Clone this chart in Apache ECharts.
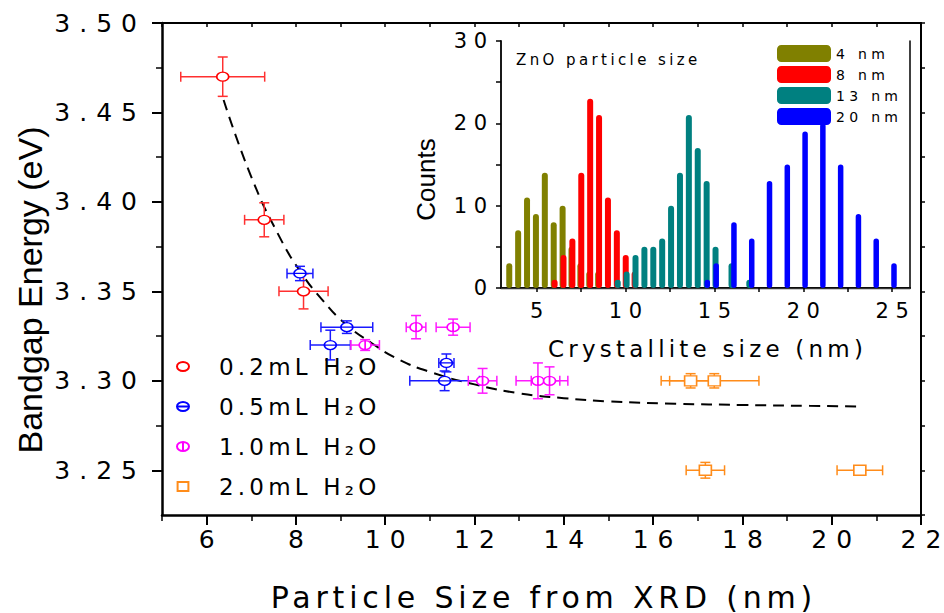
<!DOCTYPE html>
<html>
<head>
<meta charset="utf-8">
<script src="https://cdn.jsdelivr.net/npm/echarts@6/dist/echarts.min.js"></script>
<style>
html, body { margin: 0; padding: 0; background: #fff; }
#chart { width: 944px; height: 613px; }
</style>
</head>
<body>
<div id="chart"></div>
<script>
// main plot: [size, bandgap, x error, y error]
var pts02 = [[6.36, 3.47, 0.94, 0.011], [7.29, 3.39, 0.44, 0.0095], [8.17, 3.35, 0.55, 0.0098]];
var pts05 = [[8.09, 3.36, 0.29, 0.004], [9.14, 3.33, 0.58, 0.0035], [8.77, 3.32, 0.45, 0.0083],
             [11.37, 3.31, 0.17, 0.005], [11.33, 3.30, 0.78, 0.0055]];
var pts10 = [[10.69, 3.33, 0.22, 0.0065], [11.52, 3.33, 0.38, 0.0045], [9.55, 3.32, 0.32, 0.003],
             [12.18, 3.30, 0.32, 0.0069], [13.42, 3.30, 0.49, 0.01], [13.68, 3.30, 0.41, 0.0078]];
var pts20 = [[16.84, 3.30, 0.66, 0.004], [17.37, 3.30, 1.0, 0.004], [17.17, 3.25, 0.43, 0.0044], [20.63, 3.25, 0.51, 0]];
// dashed fit curve
var fitCurve = [[6.38, 3.457], [7.0, 3.414], [7.6, 3.382], [8.1, 3.361], [8.6, 3.345], [9.1, 3.332],
                [9.7, 3.321], [10.3, 3.312], [11.0, 3.305], [12.0, 3.298], [13.0, 3.293], [14.0, 3.2903],
                [15.0, 3.2885], [16.5, 3.2872], [18.0, 3.2865], [19.5, 3.286], [20.65, 3.2856]];

// inset histogram
var bins4 = [3.45, 3.95, 4.45, 4.95, 5.45, 5.95, 6.45, 6.95, 7.45, 7.95, 8.45];
var counts4 = [3, 7, 11, 9, 14, 8, 10, 5, 3, 2, 2];
var bins8 = [6, 6.5, 7, 7.5, 8, 8.5, 9, 9.5, 10, 10.5];
var counts8 = [1, 4, 6, 14, 23, 21, 11, 7, 4, 2];
var bins13 = [9.55, 10.05, 10.55, 11.05, 11.55, 12.05, 12.55, 13.05, 13.55, 14.05, 14.55, 15.05, 15.95, 16.95];
var counts13 = [1, 2, 4, 5, 5, 6, 10, 14, 21, 17, 13, 5, 3, 1];
var bins20 = [14.6, 15.1, 16.1, 17.1, 18.1, 19.1, 20.1, 21.1, 22.1, 23.1, 24.1, 25.1];
var counts20 = [1, 3, 8, 6, 13, 15, 19, 20, 15, 9, 6, 3];

var xMajor = [6, 8, 10, 12, 14, 16, 18, 20, 22];
var xMinor = [5, 7, 9, 11, 13, 15, 17, 19, 21];
var yMajor = [3.25, 3.30, 3.35, 3.40, 3.45, 3.50];
var yMinor = [3.275, 3.325, 3.375, 3.425, 3.475];
var insetXLabels = [5, 10, 15, 20, 25];
var insetXTicks = [5, 7.5, 10, 12.5, 15, 17.5, 20, 22.5, 25];
var insetYLabels = [0, 10, 20, 30];

var FONT = 'DejaVu Sans';
var ELL = 'path://M0,4.5A6,4.5 0 1 1 12,4.5A6,4.5 0 1 1 0,4.5Z';
var ELL_H = ELL + 'M0,4.5L12,4.5';
var ELL_V = ELL + 'M6,0L6,9';
var SQR = 'path://M0,0L12,0L12,10L0,10Z';

function pairs(xs, ys) {
  return xs.map(function (x, i) { return [x, ys[i]]; });
}

function errorBars(name, pts, color) {
  return {
    name: name, type: 'custom', xAxisIndex: 0, yAxisIndex: 0, silent: true, z: 3,
    data: pts,
    encode: { x: 0, y: 1 },
    renderItem: function (params, api) {
      var x = api.value(0), y = api.value(1), ex = api.value(2), ey = api.value(3);
      var c = 5;
      var st = { stroke: color, lineWidth: 1.5, fill: null };
      var l = api.coord([x - ex, y]), r = api.coord([x + ex, y]);
      var kids = [
        { type: 'line', shape: { x1: l[0], y1: l[1], x2: r[0], y2: r[1] }, style: st },
        { type: 'line', shape: { x1: l[0], y1: l[1] - c, x2: l[0], y2: l[1] + c }, style: st },
        { type: 'line', shape: { x1: r[0], y1: r[1] - c, x2: r[0], y2: r[1] + c }, style: st }
      ];
      if (ey > 0) {
        var t = api.coord([x, y + ey]), b = api.coord([x, y - ey]);
        kids.push({ type: 'line', shape: { x1: t[0], y1: t[1], x2: b[0], y2: b[1] }, style: st });
        kids.push({ type: 'line', shape: { x1: t[0] - c, y1: t[1], x2: t[0] + c, y2: t[1] }, style: st });
        kids.push({ type: 'line', shape: { x1: b[0] - c, y1: b[1], x2: b[0] + c, y2: b[1] }, style: st });
      }
      return { type: 'group', children: kids };
    }
  };
}

function marks(name, pts, color, symbol, size) {
  return {
    name: name, type: 'scatter', xAxisIndex: 0, yAxisIndex: 0, z: 4,
    data: pts.map(function (p) { return [p[0], p[1]]; }),
    symbol: symbol, symbolSize: size,
    itemStyle: { color: '#fff', borderColor: color, borderWidth: 1.5, opacity: 1 }
  };
}

function bars(name, xs, ys, color, w) {
  return {
    name: name, type: 'bar', xAxisIndex: 3, yAxisIndex: 3, z: 6,
    data: pairs(xs, ys), barWidth: w, barGap: '-100%',
    itemStyle: { color: color, borderRadius: 3 }
  };
}

var black = '#000';
var chart = echarts.init(document.getElementById('chart'), null, { renderer: 'svg' });

chart.setOption({
  animation: false,
  backgroundColor: '#fff',
  title: {
    text: 'ZnO particle size', left: 516, top: 52, padding: 0,
    textStyle: { fontFamily: FONT, fontSize: 15, fontWeight: 'normal', color: black }
  },
  grid: [
    { left: 162, top: 23, width: 759, height: 492, outerBoundsMode: 'none' },
    { left: 501, top: 41, width: 409, height: 247, outerBoundsMode: 'none',
      show: true, backgroundColor: '#fff', borderWidth: 0 }
  ],
  legend: [
    {
      orient: 'vertical', left: 171, top: 350, itemWidth: 62, itemHeight: 9, itemGap: 17,
      textStyle: { fontFamily: FONT, fontSize: 23, lineHeight: 23, color: black },
      data: [
        { name: '0.2mL H₂O', icon: ELL },
        { name: '0.5mL H₂O', icon: ELL_H },
        { name: '1.0mL H₂O', icon: ELL_V },
        { name: '2.0mL H₂O', icon: SQR }
      ]
    },
    {
      orient: 'vertical', left: 777, top: 45, itemWidth: 54, itemHeight: 17, itemGap: 4,
      padding: 0, backgroundColor: '#fff', z: 10,
      textStyle: { fontFamily: FONT, fontSize: 14, color: black },
      data: [
        { name: '4 nm', icon: 'roundRect' },
        { name: '8 nm', icon: 'roundRect' },
        { name: '13 nm', icon: 'roundRect' },
        { name: '20 nm', icon: 'roundRect' }
      ]
    }
  ],
  xAxis: [
    {
      gridIndex: 0, type: 'value', position: 'bottom', min: 5, max: 22, interval: 1,
      splitLine: { show: false },
      axisLine: { lineStyle: { color: black, width: 2.5 } },
      axisTick: { customValues: xMajor, length: 10, lineStyle: { color: black, width: 2 } },
      axisLabel: { customValues: xMajor, margin: 12, fontFamily: FONT, fontSize: 25, color: black },
      name: 'Particle Size from XRD (nm)', nameLocation: 'middle', nameGap: 67,
      nameTextStyle: { fontFamily: FONT, fontSize: 30, color: black }
    },
    {
      gridIndex: 0, type: 'value', position: 'bottom', min: 5, max: 22, interval: 1,
      splitLine: { show: false }, axisLine: { show: false }, axisLabel: { show: false },
      axisTick: { customValues: xMinor, length: 6, lineStyle: { color: black, width: 1.5 } }
    },
    {
      gridIndex: 0, type: 'value', position: 'top', min: 5, max: 22, interval: 1,
      splitLine: { show: false }, axisLabel: { show: false },
      axisLine: { lineStyle: { color: black, width: 2 } },
      axisTick: { inside: true, length: 4, lineStyle: { color: black, width: 1.5 } }
    },
    {
      gridIndex: 1, type: 'value', position: 'bottom', min: 3, max: 26, interval: 1,
      splitLine: { show: false },
      axisLine: { lineStyle: { color: black, width: 2 } },
      axisTick: { customValues: insetXTicks, length: 4, lineStyle: { color: black, width: 1.5 } },
      axisLabel: { customValues: insetXLabels, margin: 12, fontFamily: FONT, fontSize: 21, color: black },
      name: 'Crystallite size (nm)', nameLocation: 'middle', nameGap: 49,
      nameTextStyle: { fontFamily: FONT, fontSize: 23, color: black }
    },
    {
      gridIndex: 1, type: 'value', position: 'top', min: 3, max: 26, interval: 1,
      splitLine: { show: false }, axisLabel: { show: false }, axisTick: { show: false },
      axisLine: { lineStyle: { color: '#333', width: 1.3 } }
    }
  ],
  yAxis: [
    {
      gridIndex: 0, type: 'value', position: 'left', min: 3.225, max: 3.5, interval: 0.025,
      splitLine: { show: false },
      axisLine: { lineStyle: { color: black, width: 2.5 } },
      axisTick: { customValues: yMajor, length: 10, lineStyle: { color: black, width: 2 } },
      axisLabel: {
        customValues: yMajor, margin: 25, fontFamily: FONT, fontSize: 25, color: black,
        formatter: function (v) { return v.toFixed(2); }
      },
      name: 'Bandgap Energy (eV)', nameLocation: 'middle', nameGap: 115,
      nameTextStyle: { fontFamily: 'Liberation Sans', fontSize: 34, color: black, padding: [0, 42, 0, 0] }
    },
    {
      gridIndex: 0, type: 'value', position: 'left', min: 3.225, max: 3.5, interval: 0.025,
      splitLine: { show: false }, axisLine: { show: false }, axisLabel: { show: false },
      axisTick: { customValues: yMinor, length: 6, lineStyle: { color: black, width: 1.5 } }
    },
    {
      gridIndex: 0, type: 'value', position: 'right', min: 3.225, max: 3.5, interval: 0.025,
      splitLine: { show: false }, axisLabel: { show: false },
      axisLine: { lineStyle: { color: black, width: 2 } },
      axisTick: { length: 4, lineStyle: { color: black, width: 1.5 } }
    },
    {
      gridIndex: 1, type: 'value', position: 'left', min: 0, max: 30, interval: 5,
      splitLine: { show: false },
      axisLine: { lineStyle: { color: black, width: 1.8 } },
      axisTick: { length: 5, lineStyle: { color: black, width: 1.5 } },
      axisLabel: { customValues: insetYLabels, margin: 14, fontFamily: FONT, fontSize: 21, color: black },
      name: 'Counts', nameLocation: 'middle', nameGap: 62,
      nameTextStyle: { fontFamily: 'Liberation Sans', fontSize: 26, color: black, padding: [0, 30, 0, 0] }
    },
    {
      gridIndex: 1, type: 'value', position: 'right', min: 0, max: 30, interval: 5,
      splitLine: { show: false }, axisLabel: { show: false }, axisTick: { show: false },
      axisLine: { lineStyle: { color: black, width: 1.5 } }
    }
  ],
  series: [
    {
      name: 'fit', type: 'line', xAxisIndex: 0, yAxisIndex: 0, data: fitCurve, smooth: true,
      symbol: 'none', silent: true, z: 2,
      lineStyle: { color: black, width: 2, type: [11, 7] }
    },
    errorBars('err02', pts02, '#ff3030'),
    errorBars('err05', pts05, '#1a1aff'),
    errorBars('err10', pts10, '#ff1aff'),
    errorBars('err20', pts20, '#ff8c1a'),
    marks('0.2mL H₂O', pts02, '#ff0000', ELL, [12, 9]),
    marks('0.5mL H₂O', pts05, '#0000ff', ELL_H, [12, 9]),
    marks('1.0mL H₂O', pts10, '#ff00ff', ELL_V, [12, 9]),
    marks('2.0mL H₂O', pts20, '#ff8c1a', SQR, [12, 10]),
    bars('4 nm', bins4, counts4, '#808000', 6),
    bars('8 nm', bins8, counts8, '#ff0000', 6),
    bars('13 nm', bins13, counts13, '#008080', 6),
    bars('20 nm', bins20, counts20, '#0000ff', 5.5)
  ]
});

// the reference draws its horizontal texts widely spaced: spread the glyphs with dx
var spacingBySize = { 25: 9, 30: 4.8, 23: 4.2, 21: 6.5, 15: 3.4, 14: 4.3 };
function spaceTexts() {
  var texts = document.querySelectorAll('#chart text');
  for (var i = 0; i < texts.length; i++) {
    var t = texts[i];
    var cs = getComputedStyle(t);
    if (cs.fontFamily.indexOf('Liberation') >= 0) continue;
    var s = spacingBySize[Math.round(parseFloat(cs.fontSize))];
    if (!s) continue;
    var n = t.textContent.length;
    var dx = [0];
    for (var k = 1; k < n; k++) dx.push(s);
    t.setAttribute('dx', dx.join(' '));
  }
}
spaceTexts();
chart.on('finished', spaceTexts);
</script>
</body>
</html>
